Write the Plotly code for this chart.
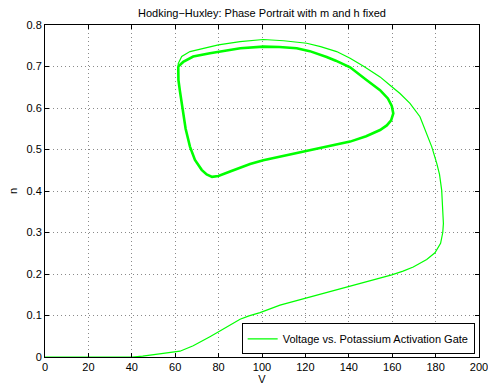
import plotly.graph_objects as go

# Transient: trajectory from rest up the right branch and over the top
transient_V = [0, 20, 40, 45, 51.5, 56, 62.2, 68.3, 72, 76, 80, 83.7, 87, 89.9, 94, 99.1,
               108.3, 119.8, 130, 139.8, 150, 159.8, 165, 169.7, 175.9, 179.7, 182.3, 183.3,
               183.6, 183.2, 182.8, 181.8, 180.5, 178.2, 175.9, 172.8, 168.2, 163.6, 159,
               154.4, 147, 140.6, 134.4, 127, 120.6, 110, 100.6, 89.9, 79.9, 73, 66.8, 63,
               61.4, 61.4]
transient_n = [0, 0, 0.0, 0.002, 0.006, 0.009, 0.014, 0.027, 0.037, 0.049, 0.061, 0.073, 0.083,
               0.091, 0.099, 0.107, 0.125, 0.141, 0.155, 0.169, 0.183, 0.198, 0.207, 0.217,
               0.235, 0.251, 0.274, 0.300, 0.322, 0.360, 0.402, 0.440, 0.467, 0.507, 0.539,
               0.579, 0.611, 0.635, 0.655, 0.675, 0.700, 0.720, 0.736, 0.748, 0.756, 0.762,
               0.765, 0.760, 0.752, 0.744, 0.736, 0.724, 0.707, 0.700]

# Limit cycle (traced repeatedly, drawn heavier)
cycle_V = [61.4, 61.5, 62.2, 63.0, 64.0, 64.8, 66.8, 69.1, 72.2, 74.5, 77, 79.9, 85.3, 90,
           94.5, 100.6, 110, 120.6, 130, 140.6, 148, 154.4, 157.5, 159.5, 160.5, 159.8, 158,
           154.4, 148, 140.6, 134, 129.8, 122, 116, 108, 100.6, 90, 80, 76, 68.3, 63.7, 61.4]
cycle_n = [0.700, 0.667, 0.640, 0.611, 0.580, 0.550, 0.507, 0.475, 0.451, 0.440, 0.434, 0.436,
           0.447, 0.457, 0.465, 0.474, 0.485, 0.496, 0.507, 0.519, 0.532, 0.547, 0.558, 0.570,
           0.587, 0.605, 0.623, 0.643, 0.668, 0.698, 0.714, 0.723, 0.737, 0.744, 0.747, 0.748,
           0.744, 0.736, 0.732, 0.724, 0.711, 0.700]

x_ticks = [0, 20, 40, 60, 80, 100, 120, 140, 160, 180, 200]
y_ticks = [0, 0.1, 0.2, 0.3, 0.4, 0.5, 0.6, 0.7, 0.8]

GREEN = "#00ff00"
FONT = "Liberation Sans, Arial, Helvetica, sans-serif"

fig = go.Figure()
fig.add_trace(go.Scatter(x=transient_V, y=transient_n, mode="lines",
                         line=dict(color=GREEN, width=1.2),
                         name="Voltage vs. Potassium Activation Gate"))
fig.add_trace(go.Scatter(x=cycle_V, y=cycle_n, mode="lines",
                         line=dict(color=GREEN, width=2.6), showlegend=False))

axis_common = dict(
    showline=True, linecolor="black", linewidth=1, mirror="allticks",
    ticks="inside", ticklen=4, tickcolor="black",
    showgrid=True, gridcolor="#8a8a8a", gridwidth=1, griddash="1px,3px",
    zeroline=False, automargin=False, ticklabeloverflow="allow",
    tickfont=dict(family=FONT, size=11, color="black"),
)

fig.update_xaxes(range=[0, 200], tickvals=x_ticks, ticktext=[str(v) for v in x_ticks],
                 title=dict(text="V", font=dict(family=FONT, size=11, color="black"), standoff=2),
                 **axis_common)
fig.update_yaxes(range=[0, 0.8], tickvals=y_ticks, ticktext=[f"{v:g}" for v in y_ticks],
                 title=dict(text="n", font=dict(family=FONT, size=11, color="black"), standoff=6),
                 **axis_common)

fig.update_layout(
    width=488, height=385,
    margin=dict(l=45, r=9, t=25, b=28),
    paper_bgcolor="white", plot_bgcolor="white",
    font=dict(family=FONT, size=11, color="black"),
    title=dict(text="Hodking−Huxley: Phase Portrait with m and h fixed",
               x=(45 + 217) / 488, xanchor="center", y=1 - 13 / 385, yanchor="middle",
               font=dict(family=FONT, size=11, color="black")),
    legend=dict(x=0.99, xanchor="right", y=0.008, yanchor="bottom",
                bgcolor="white", bordercolor="black", borderwidth=1,
                font=dict(family=FONT, size=11, color="black"),
                tracegroupgap=0, itemwidth=30),
    showlegend=True,
)

fig.write_html("out.html")
